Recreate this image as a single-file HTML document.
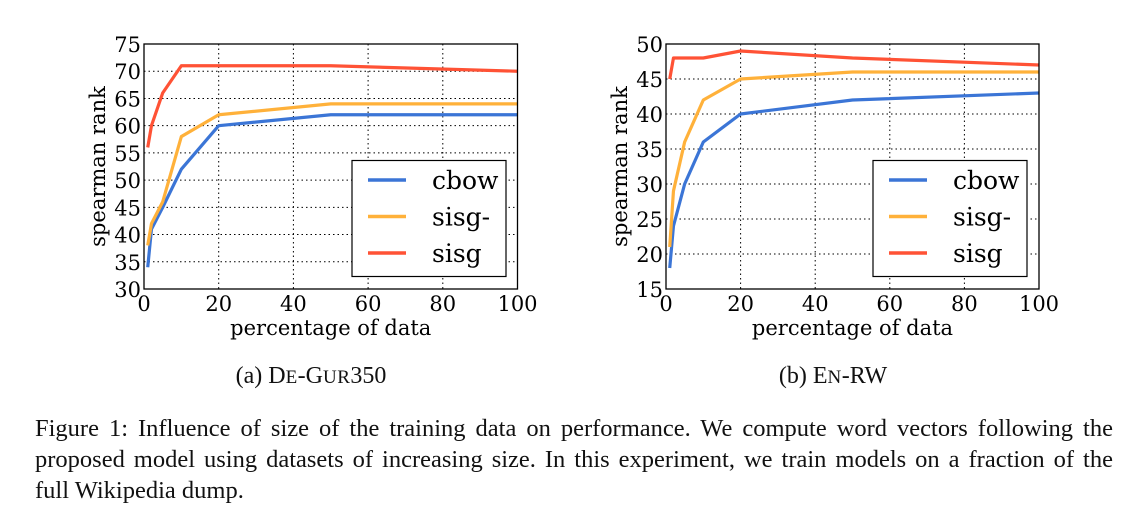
<!DOCTYPE html>
<html><head><meta charset="utf-8"><style>
body{margin:0;background:#fff;width:1132px;height:510px;overflow:hidden;position:relative;font-family:"Liberation Serif",serif}
.cap{position:absolute;font-size:24px;color:#111;width:300px;text-align:center}
.fl{position:absolute;left:35px;width:1078px;font-size:24.5px;line-height:31px;color:#111;white-space:nowrap}
.j{text-align:justify;text-align-last:justify;white-space:normal}
.sc{font-size:19px;letter-spacing:0.5px}
</style></head><body>
<svg id="svg" width="1132" height="360" style="position:absolute;left:0;top:0"></svg>
<div class="cap" style="left:161px;top:363px">(a) D<span class="sc">E</span>-G<span class="sc">UR</span>350</div>
<div class="cap" style="left:683px;top:363px">(b) E<span class="sc">N</span>-RW</div>
<div>
<div class="fl j" style="top:413px">Figure 1: Influence of size of the training data on performance. We compute word vectors following the</div>
<div class="fl j" style="top:444px">proposed model using datasets of increasing size. In this experiment, we train models on a fraction of the</div>
<div class="fl" style="top:475px">full Wikipedia dump.</div>
</div>
<script>
const xs=[1,2,5,10,20,50,100];
const xTicks=[0,20,40,60,80,100];
const seriesNames=["cbow","sisg-","sisg"];
const colors=["#3b75d6","#ffb13a","#ff5235"];
const aCbow=[34,41,45,52,60,62,62];
const aSisgm=[38,42,46,58,62,64,64];
const aSisg=[56,60,66,71,71,71,70];
const aTicks=[30,35,40,45,50,55,60,65,70,75];
const bCbow=[18,24,30,36,40,42,43];
const bSisgm=[21,29,36,42,45,46,46];
const bSisg=[45,48,48,48,49,48,47];
const bTicks=[15,20,25,30,35,40,45,50];
const NS="http://www.w3.org/2000/svg";
const svg=document.getElementById('svg');
function mk(t,a,p){const e=document.createElementNS(NS,t);for(const k in a)e.setAttribute(k,a[k]);(p||svg).appendChild(e);return e;}
function chart(id,L,R,T,B,ticks,series,lg){
  const g=mk('g',{});
  
  
  const ymin=ticks[0],ymax=ticks[ticks.length-1];
  const X=v=>L+(v-0)/100*(R-L), Y=v=>B-(v-ymin)/(ymax-ymin)*(B-T);
  xTicks.forEach(t=>{
    const l=mk('line',{x1:X(t),x2:X(t),y1:T,y2:B,stroke:'#000','stroke-width':1,'stroke-dasharray':'1.5,3'},g);
    
    
    const tx=mk('text',{x:X(t),y:B+22,'text-anchor':'middle','font-family':'DejaVu Serif,serif','font-size':21},g);
    tx.textContent=t;
    
    
  });
  ticks.forEach(t=>{
    const l=mk('line',{x1:L,x2:R,y1:Y(t),y2:Y(t),stroke:'#000','stroke-width':1,'stroke-dasharray':'1.5,3'},g);
    
    
    const tx=mk('text',{x:L-3,y:Y(t)+8,'text-anchor':'end','font-family':'DejaVu Serif,serif','font-size':21},g);
    tx.textContent=t;
    
    
  });
  series.forEach((s,i)=>{
    const p=mk('polyline',{points:s.map((v,j)=>X(xs[j])+','+Y(v)).join(' '),fill:'none',stroke:colors[i],'stroke-width':3.2,'stroke-linejoin':'round'},g);
    
    
  });
  const f=mk('rect',{x:L,y:T,width:R-L,height:B-T,fill:'none',stroke:'#000','stroke-width':1.3},g);
  
  
  const lb=mk('rect',{x:lg,y:160.5,width:154,height:116,fill:'#fff',stroke:'#000','stroke-width':1.2},g);
  
  
  seriesNames.forEach((n,i)=>{
    const yy=180+i*36.5;
    const l=mk('line',{x1:lg+16,x2:lg+54,y1:yy,y2:yy,stroke:colors[i],'stroke-width':3.5},g);
    
    
    const t=mk('text',{x:lg+80,y:yy+9,'font-family':'DejaVu Serif,serif','font-size':25},g);
    t.textContent=n;
    
    
  });
  const xl=mk('text',{x:(L+R)/2,y:B+46,'text-anchor':'middle','font-family':'DejaVu Serif,serif','font-size':21},g);
  xl.textContent='percentage of data';
  
  
  const yl=mk('text',{x:0,y:0,'text-anchor':'middle','font-family':'DejaVu Serif,serif','font-size':21,transform:`translate(${L-39},${(T+B)/2}) rotate(-90)`},g);
  yl.textContent='spearman rank';
  
  
}
chart('chart-de-gur350',144,517.5,44,289,aTicks,[aCbow,aSisgm,aSisg],352);
chart('chart-en-rw',666,1039,44,289,bTicks,[bCbow,bSisgm,bSisg],873);
</script>
</body></html>
